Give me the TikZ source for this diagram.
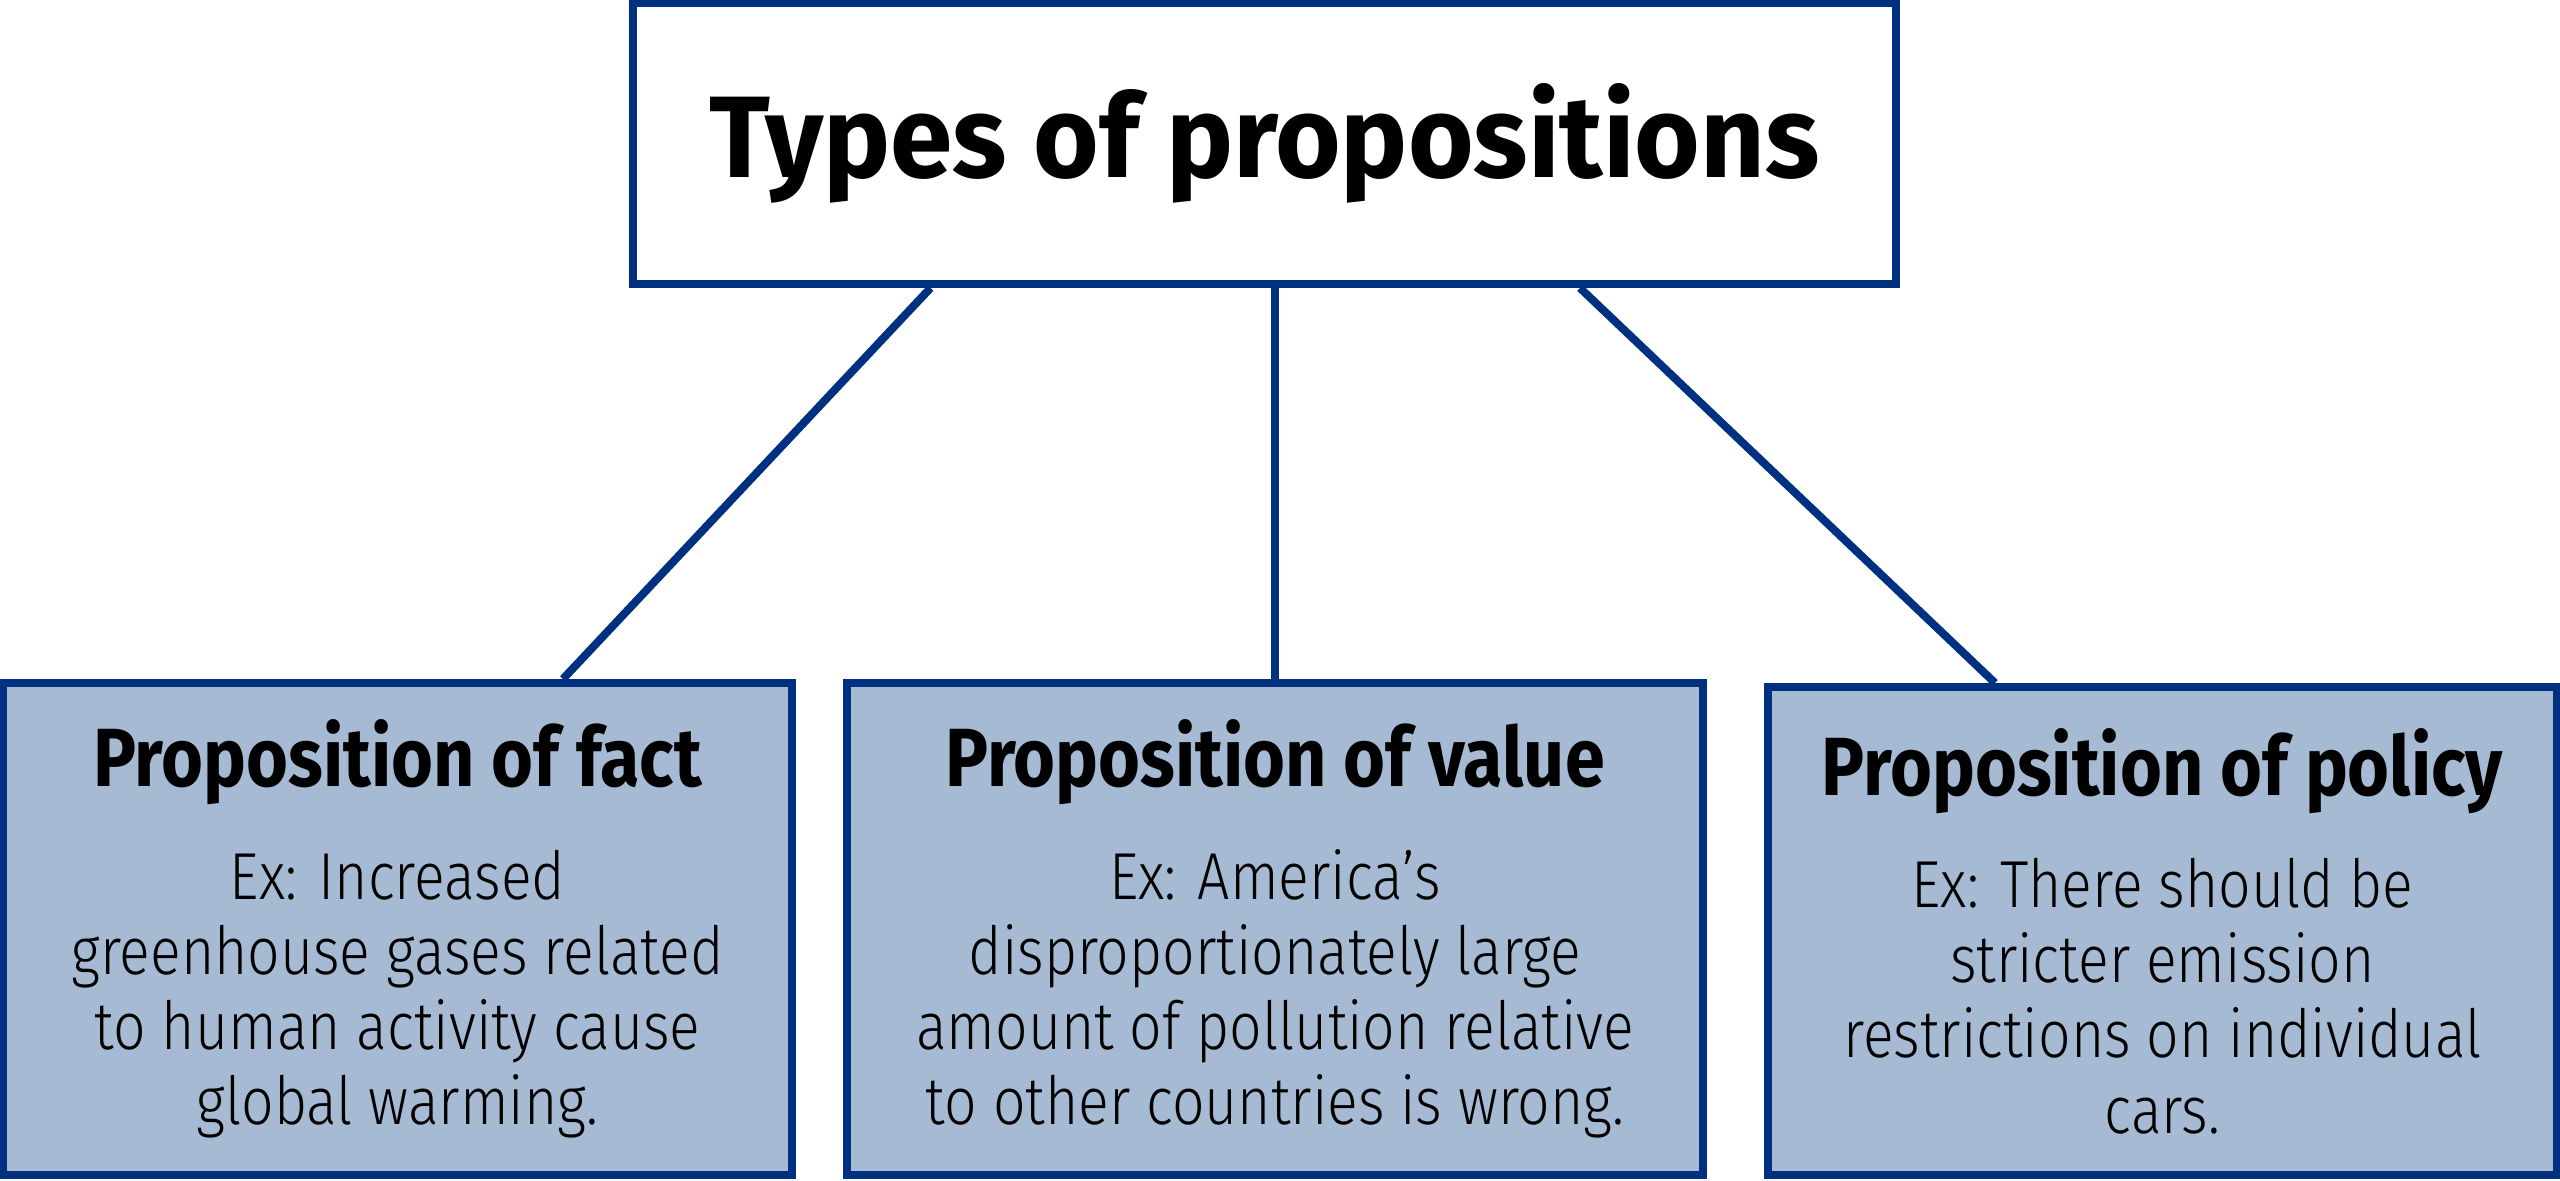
\documentclass[tikz,border=0pt]{standalone}
\usepackage{fontspec}
\setmainfont{Fira Sans}
\newfontfamily\titlefont[FakeStretch=0.97]{Fira Sans Bold}
\newfontfamily\headfont[FakeStretch=0.87]{Fira Sans Bold}
\newfontfamily\lightfont[FakeStretch=0.86]{Fira Sans Light}
\usetikzlibrary{calc}

\definecolor{propblue}{RGB}{0,48,128}
\definecolor{propfill}{RGB}{167,186,211}

\tikzset{
    topbox/.style={draw=propblue, fill=white, line width=0.08cm, minimum width=12.63cm, minimum height=2.81cm, inner sep=0pt, font=\titlefont\fontsize{33}{38}\selectfont},
    propbox/.style={draw=propblue, fill=propfill, line width=0.08cm, minimum height=4.92cm, inner sep=0pt, align=center, font=\lightfont\fontsize{18.9}{21.4}\selectfont},
    link/.style={draw=propblue, line width=0.08cm}
}
\newcommand{\heading}[1]{{\headfont\fontsize{23.5}{28}\selectfont #1}}

\begin{document}
\begin{tikzpicture}
    \useasboundingbox (0,0) rectangle (25.6,11.81);

    % Title:
    \node [topbox] (title) at (12.645,10.375) {Types of propositions};

    % The three kinds of proposition:
    \node [propbox, minimum width=7.89cm] (fact) at (3.975,2.52) {\heading{Proposition of fact}\\[10.6pt]
        Ex: Increased\\ greenhouse gases related\\ to human activity cause\\ global warming.};
    \node [propbox, minimum width=8.56cm] (value) at (12.75,2.52) {\heading{Proposition of value}\\[10.6pt]
        Ex: America’s\\ disproportionately large\\ amount of pollution relative\\ to other countries is wrong.};
    \node [propbox, minimum width=7.89cm, minimum height=4.88cm] (policy) at (21.625,2.50) {\heading{Proposition of policy}\\[10.6pt]
        Ex: There should be\\ stricter emission\\ restrictions on individual\\ cars.};

    % Connectors
    \draw [link] ($(title.south)+(-3.34,0)$) -- ($(fact.north)+(1.655,0)$);
    \draw [link] (value.north |- title.south) -- (value.north);
    \draw [link] ($(title.south)+(3.155,0)$) -- ($(policy.north)+(-1.675,0)$);
\end{tikzpicture}
\end{document}
